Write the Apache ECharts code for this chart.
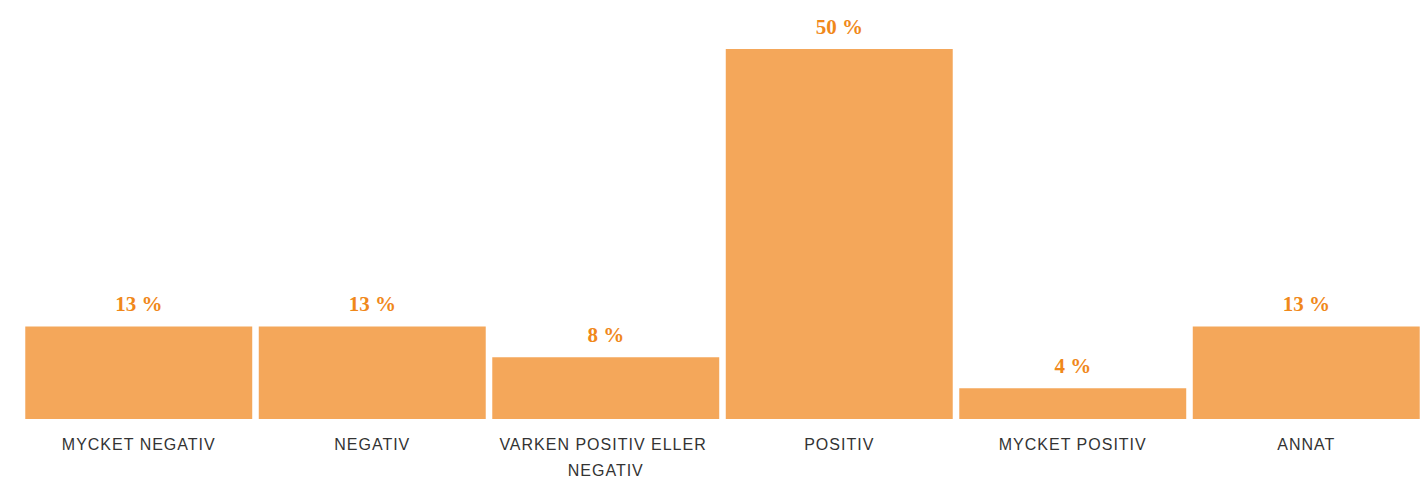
<!DOCTYPE html>
<html>
<head>
<meta charset="utf-8">
<script src="https://cdn.jsdelivr.net/npm/echarts@6/dist/echarts.min.js"></script>
<style>
  html, body { margin: 0; padding: 0; background: #fff; }
  #container { width: 1427px; height: 483px; }
  /* spaced-out category captions */
  #container svg text[fill="#333"] { letter-spacing: 1px; }
</style>
</head>
<body>
<div id="container"></div>
<script>
// answers out of 24 respondents, shown as rounded percentages
const categories = ['MYCKET NEGATIV', 'NEGATIV', 'VARKEN POSITIV ELLER NEGATIV', 'POSITIV', 'MYCKET POSITIV', 'ANNAT']
const shares = [12.5, 12.5, 8.33, 50, 4.17, 12.5]
const valueLabels = ['13 %', '13 %', '8 %', '50 %', '4 %', '13 %']

let mychart = echarts.init(document.getElementById('container'), null, { renderer: 'svg' })

let options = {
  animation: false,
  grid: {
    left: 22,
    right: 4,
    top: 49,
    bottom: 60
  },
  xAxis: {
    type: 'category',
    data: categories,
    axisLine: { show: false },
    axisTick: { show: false },
    axisLabel: {
      interval: 0,
      margin: 12,
      color: '#333',
      fontFamily: 'Liberation Sans',
      fontSize: 16,
      lineHeight: 26,
      width: 220,
      overflow: 'break'
    }
  },
  yAxis: {
    type: 'value',
    min: 0,
    max: 50,
    show: false
  },
  series: [
    {
      type: 'bar',
      data: shares,
      barCategoryGap: '2.8%',
      itemStyle: { color: '#f4a75a' },
      label: {
        show: true,
        position: 'top',
        distance: 12,
        color: '#f0881a',
        fontFamily: 'Liberation Serif',
        fontWeight: 'bold',
        fontSize: 21,
        formatter: p => valueLabels[p.dataIndex]
      }
    }
  ]
}

mychart.setOption(options)
window.addEventListener('resize', () => { mychart.resize() })
</script>
</body>
</html>
